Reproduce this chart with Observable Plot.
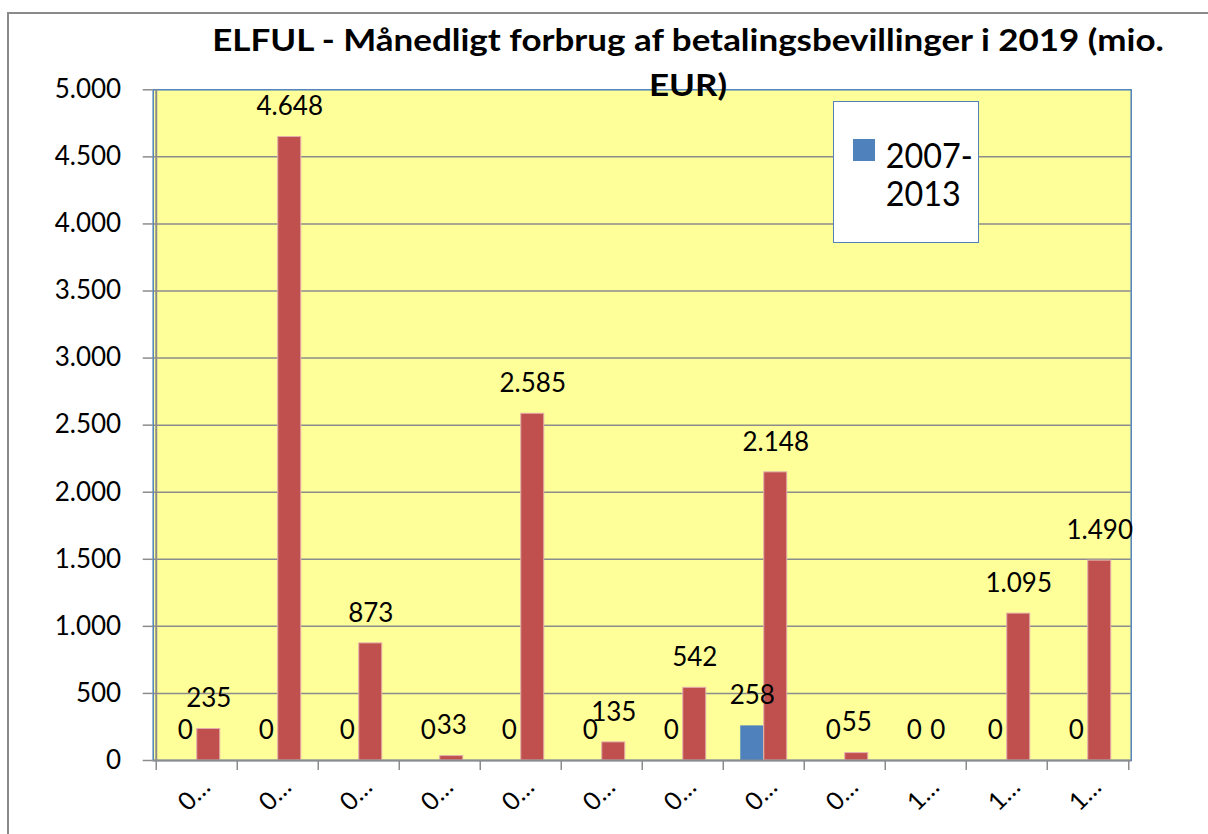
<!DOCTYPE html>
<html>
<head>
<meta charset="utf-8">
<script src="https://cdn.jsdelivr.net/npm/d3@7"></script>
<script src="https://cdn.jsdelivr.net/npm/@observablehq/plot@0.6"></script>
<style>
  html, body { margin: 0; padding: 0; background: #fff; overflow: hidden; }
  #wrap { position: relative; width: 1208px; height: 834px; font-family: Lato, "Open Sans", sans-serif; }
  #border { position: absolute; left: 7px; top: 12px; width: 1400px; height: 1000px; border-left: 2px solid #8a8a8a; border-top: 2px solid #8a8a8a; }
  #chart { position: absolute; left: 0; top: 0; }
  #title { position: absolute; left: 188px; width: 1000px; top: 17px; text-align: center; font-weight: bold; font-size: 30px; line-height: 45px; color: #000; transform: scaleX(1.165); transform-origin: 500px 0; }
  #legend { position: absolute; left: 833px; top: 101px; width: 146px; height: 142px; box-sizing: border-box; border: 1.5px solid #4F81BD; background: #fff; }
</style>
</head>
<body>
<div id="wrap">
  <div id="border"></div>
  <div id="chart"></div>
  <div id="title">ELFUL - Månedligt forbrug af betalingsbevillinger i 2019 (mio.<br>EUR)</div>
  <div id="legend"></div>
</div>
<script>
// ---- data ----
const months = ["01","02","03","04","05","06","07","08","09","10","11","12"];
const monthLabels = ["0…","0…","0…","0…","0…","0…","0…","0…","0…","1…","1…","1…"];
const seriesNames = ["2007-2013", "2014-2020"];
const values2007 = [0, 0, 0, 0, 0, 0, 0, 258, 0, 0, 0, 0];
const values2014 = [235, 4648, 873, 33, 2585, 135, 542, 2148, 55, 0, 1095, 1490];
const yTicks = [0, 500, 1000, 1500, 2000, 2500, 3000, 3500, 4000, 4500, 5000];
const colors = ["#4F81BD", "#C0504D"];

// ---- layout ----
const W = 1208, H = 834;
const mL = 152.7, mR = 77.3, mT = 89.3, mB = 74;
const bw = (W - mL - mR) / months.length;
const barW = 23.5;
const gray = "#8c8c8c";

const fmt = d3.formatLocale({decimal: ",", thousands: ".", grouping: [3], currency: ["", ""]}).format(",d");

const rowsA = months.map((m, i) => ({month: m, series: seriesNames[0], value: values2007[i]}));
const rowsB = months.map((m, i) => ({month: m, series: seriesNames[1], value: values2014[i]}));

const chart = Plot.plot({
  width: W, height: H,
  marginLeft: mL, marginRight: mR, marginTop: mT, marginBottom: mB,
  style: {fontFamily: "Lato, 'Open Sans', sans-serif", background: "transparent", overflow: "visible", color: "#000"},
  x: {domain: months, padding: 0, axis: null, label: null},
  y: {domain: [0, 5000], axis: null, label: null},
  marks: [
    Plot.frame({fill: "#FFFF99", stroke: null}),
    Plot.ruleY(yTicks.filter(d => d > 0 && d < 5000), {stroke: gray, strokeWidth: 1.5}),
    Plot.frame({stroke: "#4F81BD", strokeWidth: 1.5}),
    Plot.barY(rowsA.filter(d => d.value > 0), {x: "month", y: "value", fill: colors[0], insetLeft: bw / 2 - barW, insetRight: bw / 2}),
    Plot.barY(rowsB.filter(d => d.value > 0), {x: "month", y: "value", fill: colors[1], stroke: "#E3AFAD", strokeWidth: 1, insetLeft: bw / 2, insetRight: bw / 2 - barW}),
    Plot.ruleY([0], {stroke: gray, strokeWidth: 2}),
    Plot.ruleX([months[0]], {x: d => d, dx: -bw / 2, stroke: gray, strokeWidth: 2}),
    Plot.axisY(yTicks, {tickSize: 10, tickPadding: 22, tickFormat: fmt, fontSize: 26, stroke: gray, strokeWidth: 1.5, fill: "#000", label: null}),
    Plot.axisX(months, {tickSize: 10, tickFormat: () => "", dx: -bw / 2, stroke: gray, strokeWidth: 1.5, label: null}),
    Plot.axisX([months[months.length - 1]], {tickSize: 10, tickFormat: () => "", dx: bw / 2, stroke: gray, strokeWidth: 1.5, label: null}),
    Plot.text(months, {x: d => d, text: (d, i) => monthLabels[i], frameAnchor: "bottom", rotate: -45, dy: 40, dx: 3, fontSize: 25, fill: "#000"}),
    Plot.text(rowsA, {x: "month", y: "value", text: d => fmt(d.value), dx: -barW / 2, dy: -30, fontSize: 26, fill: "#000"}),
    Plot.text(rowsB, {x: "month", y: "value", text: d => fmt(d.value), dx: barW / 2, dy: -30, fontSize: 26, fill: "#000"})
  ]
});
document.getElementById("chart").appendChild(chart);

// ---- legend ----
const leg = d3.select("#legend").append("svg").attr("width", 146).attr("height", 142).style("position", "absolute").style("left", "-1.5px").style("top", "-1.5px");
leg.append("rect").attr("x", 20).attr("y", 38).attr("width", 22).attr("height", 22).attr("fill", colors[0]);
const lines = seriesNames[0].replace("-", "-\n").split("\n");
lines.forEach((t, i) => {
  leg.append("text").attr("transform", `translate(52.7,${67 + i * 38}) scale(0.98,1.05)`)
    .attr("font-size", 33).attr("font-family", "Lato, 'Open Sans', sans-serif").attr("fill", "#000").text(t);
});
</script>
</body>
</html>
